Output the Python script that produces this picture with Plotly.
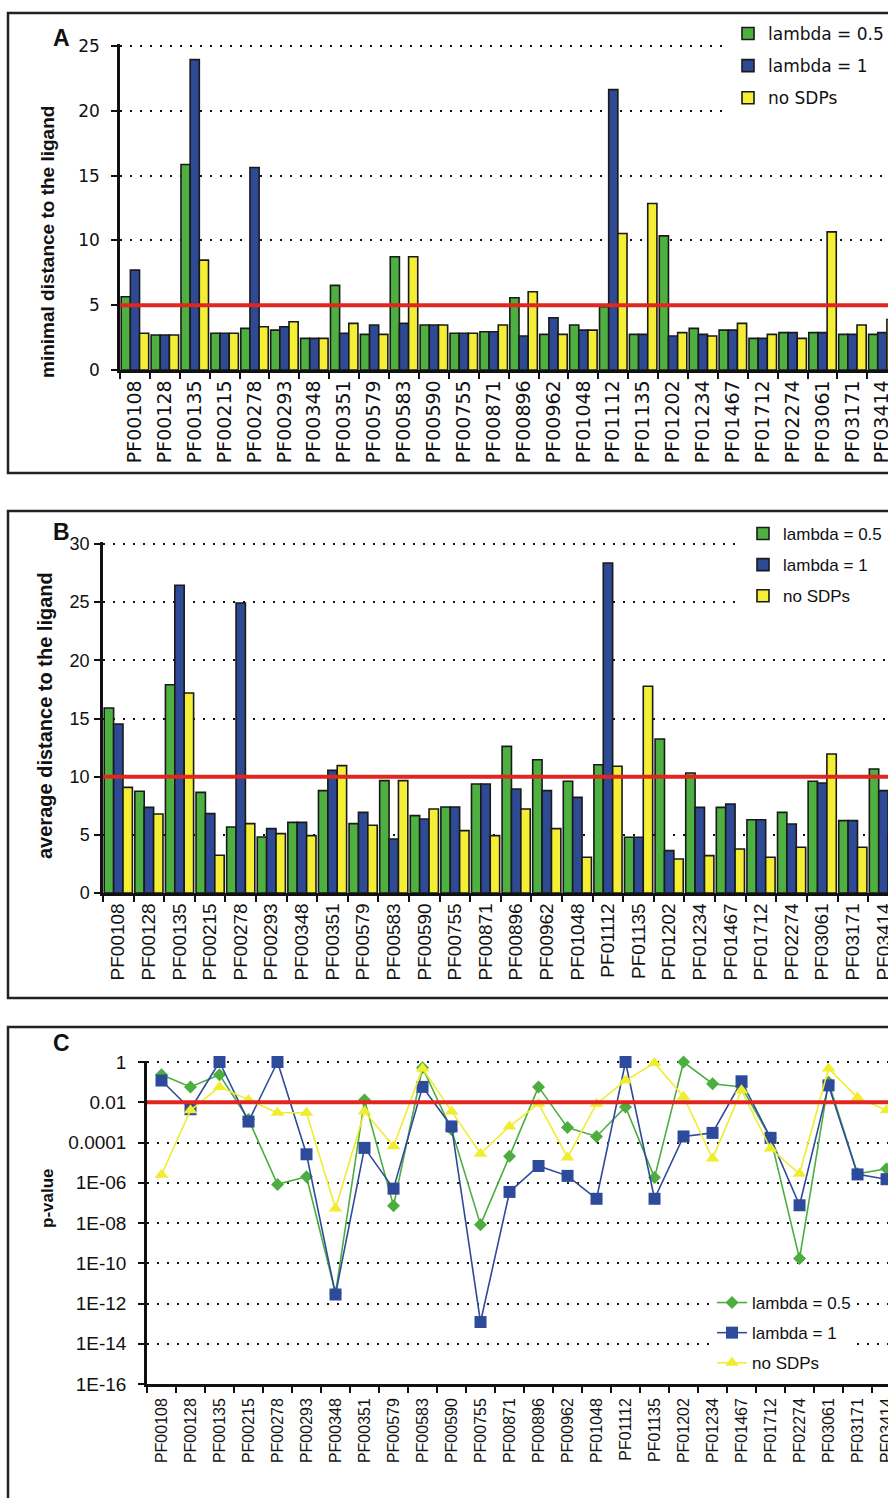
import plotly.graph_objects as go

# ---------------- data ----------------
families = ["PF00108", "PF00128", "PF00135", "PF00215", "PF00278", "PF00293", "PF00348",
            "PF00351", "PF00579", "PF00583", "PF00590", "PF00755", "PF00871", "PF00896",
            "PF00962", "PF01048", "PF01112", "PF01135", "PF01202", "PF01234", "PF01467",
            "PF01712", "PF02274", "PF03061", "PF03171", "PF03414"]
series_names = ["lambda = 0.5", "lambda = 1", "no SDPs"]

minimal_l05 = [5.65, 2.70, 15.86, 2.83, 3.21, 3.08, 2.44, 6.53, 2.75, 8.74, 3.47, 2.83, 2.95,
               5.58, 2.75, 3.47, 4.88, 2.75, 10.35, 3.21, 3.08, 2.44, 2.88, 2.88, 2.75, 2.75]
minimal_l1 = [7.71, 2.70, 23.95, 2.83, 15.63, 3.34, 2.44, 2.83, 3.47, 3.60, 3.47, 2.83, 2.95,
              2.62, 4.03, 3.08, 21.63, 2.75, 2.62, 2.75, 3.08, 2.44, 2.88, 2.88, 2.75, 2.88]
minimal_nosdp = [2.83, 2.70, 8.48, 2.83, 3.34, 3.72, 2.44, 3.60, 2.75, 8.74, 3.47, 2.83, 3.47,
                 6.04, 2.75, 3.08, 10.53, 12.85, 2.88, 2.62, 3.60, 2.75, 2.44, 10.66, 3.47, 3.90]

average_l05 = [15.9, 8.74, 17.9, 8.65, 5.67, 4.81, 6.07, 8.80, 5.96, 9.66, 6.65, 7.39, 9.37,
               12.6, 11.46, 9.6, 11.03, 4.79, 13.24, 10.32, 7.36, 6.3, 6.93, 9.6, 6.22, 10.66]
average_l1 = [14.53, 7.36, 26.45, 6.82, 24.93, 5.53, 6.07, 10.54, 6.93, 4.64, 6.36, 7.39, 9.37,
              8.94, 8.8, 8.22, 28.37, 4.79, 3.64, 7.36, 7.65, 6.3, 5.93, 9.46, 6.22, 8.8]
average_nosdp = [9.08, 6.79, 17.19, 3.24, 5.96, 5.10, 4.93, 10.95, 5.82, 9.66, 7.22, 5.36, 4.93,
                 7.22, 5.53, 3.07, 10.89, 17.77, 2.92, 3.21, 3.78, 3.07, 3.93, 11.95, 3.93, 5.0]

pvalue_l05 = [2.3e-1, 5.8e-2, 2.3e-1, 1.4e-3, 8.3e-7, 2.0e-6, 3.2e-12, 1.3e-2, 7.1e-8, 5.2e-1,
              4.4e-4, 8.3e-9, 2.1e-5, 5.8e-2, 5.5e-4, 2.0e-4, 5.8e-3, 1.8e-6, 1.0, 8.3e-2,
              5.8e-2, 1.7e-4, 1.7e-10, 1.0e-1, 2.8e-6, 5.0e-6]
pvalue_l1 = [1.2e-1, 4.5e-3, 1.0, 1.1e-3, 1.0, 2.6e-5, 2.8e-12, 5.4e-5, 5.1e-7, 5.8e-2,
             6.3e-4, 1.2e-13, 3.5e-7, 6.8e-6, 2.2e-6, 1.6e-7, 1.0, 1.6e-7, 2.0e-4, 3.0e-4,
             1.1e-1, 1.7e-4, 7.6e-8, 6.9e-2, 2.6e-6, 1.5e-6]
pvalue_nosdp = [2.5e-6, 4.0e-3, 5.8e-2, 1.3e-2, 3.0e-3, 3.0e-3, 5.2e-8, 3.5e-3, 6.5e-5, 4.7e-1,
                3.5e-3, 2.8e-5, 6.3e-4, 8.5e-3, 1.8e-5, 8.5e-3, 1.2e-1, 8.9e-1, 1.9e-2, 1.6e-5,
                3.9e-2, 5.0e-5, 2.8e-6, 4.7e-1, 1.7e-2, 4.0e-3]

thresholds = {"A": 5, "B": 10, "C": 0.01}
p_tickvals = [1, 1e-2, 1e-4, 1e-6, 1e-8, 1e-10, 1e-12, 1e-14, 1e-16]
p_ticktext = ["1", "0.01", "0.0001", "1E-06", "1E-08", "1E-10", "1E-12", "1E-14", "1E-16"]

# ---------------- styling ----------------
W, H = 888, 1498
def PX(x):
    return x / W
def PY(y):
    return 1 - y / H

BAR_COLORS = ["#4DB041", "#2F4A94", "#F4EF35"]
LINE_COLORS = ["#4BAE3F", "#2E4B9B", "#F0EC2E"]
SYMBOLS = ["diamond", "square", "triangle-up"]
SIZES = [10, 12, 12]
OUTLINE = "#1A1A1A"
RED = "#E0261E"
FA = "DejaVu Sans"
FB = "Liberation Sans"

fig = go.Figure()

for i, (name, vals) in enumerate(zip(series_names, [minimal_l05, minimal_l1, minimal_nosdp])):
    fig.add_trace(go.Bar(x=families, y=vals, name=name, xaxis="x", yaxis="y",
                         marker=dict(color=BAR_COLORS[i], line=dict(color=OUTLINE, width=1.6)),
                         legend="legend", legendgroup="a%d" % i))
for i, (name, vals) in enumerate(zip(series_names, [average_l05, average_l1, average_nosdp])):
    fig.add_trace(go.Bar(x=families, y=vals, name=name, xaxis="x2", yaxis="y2",
                         marker=dict(color=BAR_COLORS[i], line=dict(color=OUTLINE, width=1.6)),
                         legend="legend2", legendgroup="b%d" % i))
for i, (name, vals) in enumerate(zip(series_names, [pvalue_l05, pvalue_l1, pvalue_nosdp])):
    fig.add_trace(go.Scatter(x=families, y=vals, name=name, xaxis="x3", yaxis="y3",
                             mode="lines+markers", cliponaxis=False,
                             line=dict(color=LINE_COLORS[i], width=1.6),
                             marker=dict(symbol=SYMBOLS[i], size=SIZES[i], color=LINE_COLORS[i]),
                             legend="legend3", legendgroup="c%d" % i))

grid = dict(showgrid=True, gridcolor="#111111", gridwidth=2, griddash="2px,8px")
xcommon = dict(type="category", showline=True, linecolor="#111111", linewidth=2.5,
               ticks="outside", tickson="boundaries", ticklen=6, tickwidth=2,
               tickcolor="#111111", tickangle=-90, showgrid=False, zeroline=False)
ycommon = dict(showline=True, linecolor="#111111", linewidth=2.5, ticks="outside",
               ticklen=6, tickwidth=2, tickcolor="#111111", zeroline=False, **grid)

fig.update_layout(
    width=W, height=H,
    margin=dict(l=0, r=0, t=0, b=0, autoexpand=False),
    paper_bgcolor="white", plot_bgcolor="white",
    barmode="group", bargap=0.08, bargroupgap=0,
    showlegend=True,
    xaxis=dict(domain=[PX(120), 1], range=[-0.5, 25.19], anchor="y",
               tickfont=dict(family=FA, size=19, color="#111"), **xcommon),
    yaxis=dict(domain=[PY(370), PY(44.05)], range=[0, 25.15], tickvals=[0, 5, 10, 15, 20, 25],
               anchor="x", ticklabelstandoff=8,
               tickfont=dict(family=FA, size=17, color="#111"), **ycommon),
    xaxis2=dict(domain=[PX(103), 1], range=[-0.5, 25.15], anchor="y2",
                tickfont=dict(family=FB, size=19, color="#111"), **xcommon),
    yaxis2=dict(domain=[PY(893), PY(542.25)], range=[0, 30.15], tickvals=[0, 5, 10, 15, 20, 25, 30],
                anchor="x2", ticklabelstandoff=1,
                tickfont=dict(family=FB, size=18, color="#111"), **ycommon),
    xaxis3=dict(domain=[PX(147), 1], range=[-0.5, 25.05], anchor="y3", ticklabelstandoff=5,
                tickfont=dict(family=FB, size=16, color="#111"), **xcommon),
    yaxis3=dict(domain=[PY(1384), PY(1060.8)], type="log", range=[-16, 0.06], anchor="x3",
                tickvals=p_tickvals, ticktext=p_ticktext, ticklabelstandoff=8,
                tickfont=dict(family=FB, size=19, color="#111"), **ycommon),
    legend=dict(x=PX(728), y=PY(16), xanchor="left", yanchor="top", bgcolor="white",
                font=dict(family=FA, size=17, color="#111"), tracegroupgap=7,
                borderwidth=0),
    legend2=dict(x=PX(743), y=PY(516), xanchor="left", yanchor="top", bgcolor="white",
                 font=dict(family=FB, size=17, color="#111"), tracegroupgap=6,
                 borderwidth=0),
    legend3=dict(x=PX(712), y=PY(1285), xanchor="left", yanchor="top", bgcolor="white",
                 font=dict(family=FB, size=17, color="#111"), tracegroupgap=5,
                 borderwidth=0),
)

# threshold lines
for ax, key in [("", "A"), ("2", "B"), ("3", "C")]:
    fig.add_shape(type="line", xref="x%s domain" % ax, yref="y%s" % ax,
                  x0=0, x1=1, y0=thresholds[key], y1=thresholds[key],
                  line=dict(color=RED, width=4), layer="above")

# panel frames
for top, bottom in [(13, 473), (511, 998), (1027, 1530)]:
    fig.add_shape(type="rect", xref="paper", yref="paper",
                  x0=PX(8), x1=1.05, y0=PY(bottom), y1=PY(top),
                  line=dict(color="#222222", width=2.5), fillcolor="rgba(0,0,0,0)",
                  layer="below")

# panel letters
for letter, x, y in [("A", 61, 38), ("B", 62, 532), ("C", 61, 1043)]:
    fig.add_annotation(text="<b>%s</b>" % letter, xref="paper", yref="paper",
                       x=PX(x), y=PY(y), xanchor="center", yanchor="middle", showarrow=False,
                       font=dict(family=FB, size=23, color="#111"))

# axis titles
for text, x, y, fs in [("minimal distance to the ligand", 48, 242, 19),
                       ("average distance to the ligand", 45, 716, 20),
                       ("p-value", 47, 1198, 17)]:
    fig.add_annotation(text="<b>%s</b>" % text, xref="paper", yref="paper",
                       x=PX(x), y=PY(y), xanchor="center", yanchor="middle",
                       showarrow=False, textangle=-90,
                       font=dict(family=FB, size=fs, color="#111"))

fig.write_html("out.html", config={"displayModeBar": False},
               post_script="document.body.style.margin='0';document.body.style.overflow='hidden';")
